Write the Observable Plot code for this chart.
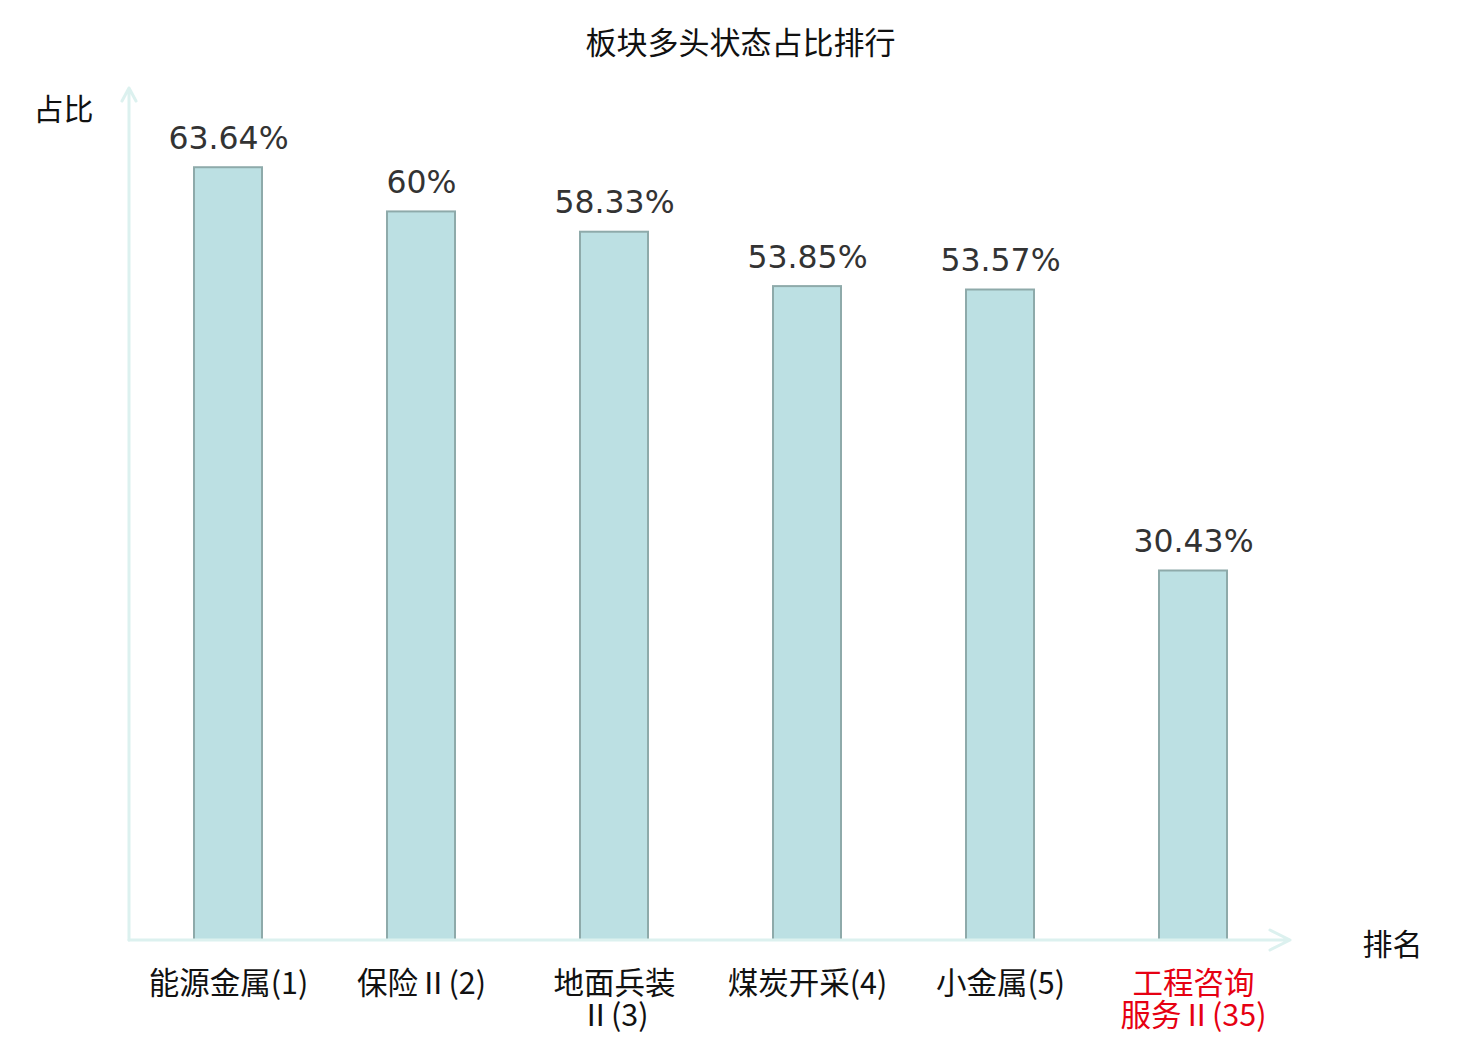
<!DOCTYPE html>
<html>
<head>
<meta charset="utf-8">
<script src="https://cdn.jsdelivr.net/npm/d3@7"></script>
<script src="https://cdn.jsdelivr.net/npm/@observablehq/plot@0.6"></script>
<style>
  body { margin: 0; background: #fff; }
  #chart svg { display: block; }
</style>
</head>
<body>
<div id="chart"></div>
<script>
const names = ["能源金属", "保险Ⅱ", "地面兵装\nⅡ", "煤炭开采", "小金属", "工程咨询\n服务Ⅱ"];
const ranks = [1, 2, 3, 4, 5, 35];
const values = [63.64, 60, 58.33, 53.85, 53.57, 30.43];
const valueLabels = ["63.64%", "60%", "58.33%", "53.85%", "53.57%", "30.43%"];
const title = "板块多头状态占比排行";
const yLabel = "占比";
const xLabel = "排名";

const data = names.map((n, i) => ({
  key: String(i),
  label: n + "(" + ranks[i] + ")",
  rank: ranks[i],
  value: values[i],
  text: valueLabels[i]
}));

const cjk = "'Noto Sans CJK SC', 'Noto Sans', sans-serif";
const axisColor = "#dcf1ef";

function axisArrows(index, scales, values, dim) {
  const g = d3.create("svg:g")
    .attr("fill", "none")
    .attr("stroke", axisColor)
    .attr("stroke-width", 3)
    .attr("stroke-linecap", "round")
    .attr("stroke-linejoin", "round");
  const x0 = dim.marginLeft - 1;
  const y0 = dim.height - dim.marginBottom;
  const yTop = dim.marginTop - 2;
  const xEnd = dim.width - dim.marginRight;
  g.append("path").attr("d", `M${x0},${y0}V${yTop}M${x0 - 7},${yTop + 13}L${x0},${yTop}L${x0 + 7},${yTop + 13}`);
  g.append("path").attr("d", `M${x0},${y0}H${xEnd}M${xEnd - 20},${y0 - 10}L${xEnd},${y0}L${xEnd - 20},${y0 + 10}`);
  return g.node();
}

const chart = Plot.plot({
  width: 1480,
  height: 1040,
  marginLeft: 130,
  marginRight: 190,
  marginTop: 90,
  marginBottom: 100,
  style: { background: "#fff", overflow: "visible" },
  x: { domain: data.map(d => d.key), paddingInner: 0.648, paddingOuter: 0.326, axis: null },
  y: { domain: [0, 70], axis: null },
  marks: [
    Plot.barY(data, { x: "key", y: "value", fill: "#bce0e3", stroke: "#8eaaaa", strokeWidth: 2 }),
    axisArrows,
    Plot.text(data, {
      x: "key", y: "value", text: "text", dy: -29,
      fontSize: 31.5, fill: "#333", fontFamily: "'DejaVu Sans', sans-serif"
    }),
    Plot.text(data.filter(d => d.rank <= 5), {
      x: "key", text: "label", frameAnchor: "bottom", lineAnchor: "top", dy: 30,
      fontSize: 30.5, lineHeight: 1.07, fill: "#111", fontFamily: cjk
    }),
    Plot.text(data.filter(d => d.rank > 5), {
      x: "key", text: "label", frameAnchor: "bottom", lineAnchor: "top", dy: 30,
      fontSize: 30.5, lineHeight: 1.07, fill: "#e60012", fontFamily: cjk
    }),
    Plot.text([title], {
      frameAnchor: "top", dx: 30, dy: -59, fontSize: 31, fill: "#111", fontFamily: cjk
    }),
    Plot.text([yLabel], {
      frameAnchor: "top-left", dx: -97, dy: 8, fontSize: 30, fill: "#111", fontFamily: cjk
    }),
    Plot.text([xLabel], {
      frameAnchor: "bottom-right", dx: 132, dy: 14, fontSize: 30, fill: "#111", fontFamily: cjk
    })
  ]
});

document.getElementById("chart").appendChild(chart);
</script>
</body>
</html>
